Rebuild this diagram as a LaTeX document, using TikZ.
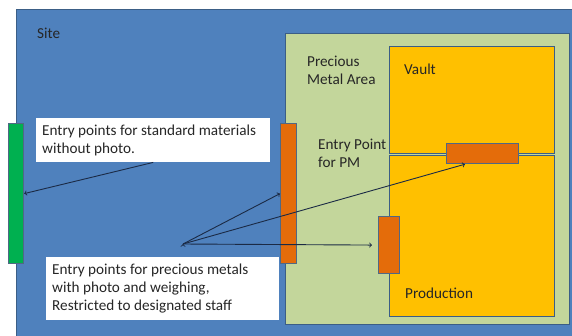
\documentclass[tikz,border=0pt]{standalone}
\usepackage{fontspec}
\setmainfont{Carlito}
\usepackage{tikz}

\definecolor{siteblue}{HTML}{4F81BD}
\definecolor{edgeblue}{HTML}{3B5E86}
\definecolor{pmgreen}{HTML}{C3D69B}
\definecolor{vaultyellow}{HTML}{FFC000}
\definecolor{doororange}{HTML}{E46C0A}
\definecolor{doorgreen}{HTML}{00B050}
\definecolor{arrowink}{HTML}{1B2A45}

\begin{document}
\begin{tikzpicture}[x=1pt,y=-1pt,>=to,
    area/.style={rectangle,draw=edgeblue,line width=1.2pt,anchor=north west,inner sep=0pt},
    door/.style={area,fill=doororange,draw=edgeblue!70!gray},
    tag/.style={anchor=base west,align=left,inner sep=0pt,text=black!85,font=\fontsize{15.2}{18}\selectfont},
    note/.style={anchor=north west,fill=white,align=flush left,inner xsep=6pt,inner ysep=0pt,text=black!85,
      font=\fontsize{15.2}{18}\selectfont}]
    \useasboundingbox (0,0) rectangle (572,335);

    % areas
    \node[area,fill=siteblue,minimum width=570,minimum height=340] (site) at (16,9) {};
    \node[area,fill=pmgreen,minimum width=284,minimum height=291] (pm) at (285,33) {};
    \node[area,fill=vaultyellow,minimum width=165,minimum height=107] (vault) at (389,46) {};
    \node[area,fill=vaultyellow,minimum width=165,minimum height=161] (prod) at (389,155) {};

    % entry points
    \node[door,fill=doorgreen,minimum width=15,minimum height=140] (std) at (8,123) {};
    \node[door,minimum width=16,minimum height=140] (pmdoor) at (280,123) {};
    \node[door,minimum width=72,minimum height=20] (vaultdoor) at (446,143) {};
    \node[door,minimum width=21,minimum height=57] (proddoor) at (378,216) {};

    % labels (base = last line)
    \node[tag] (sitelbl) at (37,38) {Site};
    \node[tag] (pmlbl) at (307,84) {Precious\\Metal Area};
    \node[tag] (vaultlbl) at (404,74) {Vault};
    \node[tag] (pmdoorlbl) at (318,167) {Entry Point\\for PM};
    \node[tag] (prodlbl) at (405,298) {Production};

    % notes
    \node[note,text width=222,minimum height=44] (stdnote) at (36,118)
        {Entry points for standard materials\\without photo.};
    \node[note,text width=221,minimum height=63] (pmnote) at (46,257)
        {Entry points for precious metals\\with photo and weighing,\\Restricted to designated staff};

    \coordinate (fan) at (183,244);

    \path[->,draw=arrowink,line width=0.9pt]
    (stdnote.south) edge (std.east)
    (fan) edge (pmdoor.west)
    (fan) edge ([xshift=19]vaultdoor.south west)
    (fan) edge[shorten >=6pt] (proddoor.west);
  \end{tikzpicture}
\end{document}
